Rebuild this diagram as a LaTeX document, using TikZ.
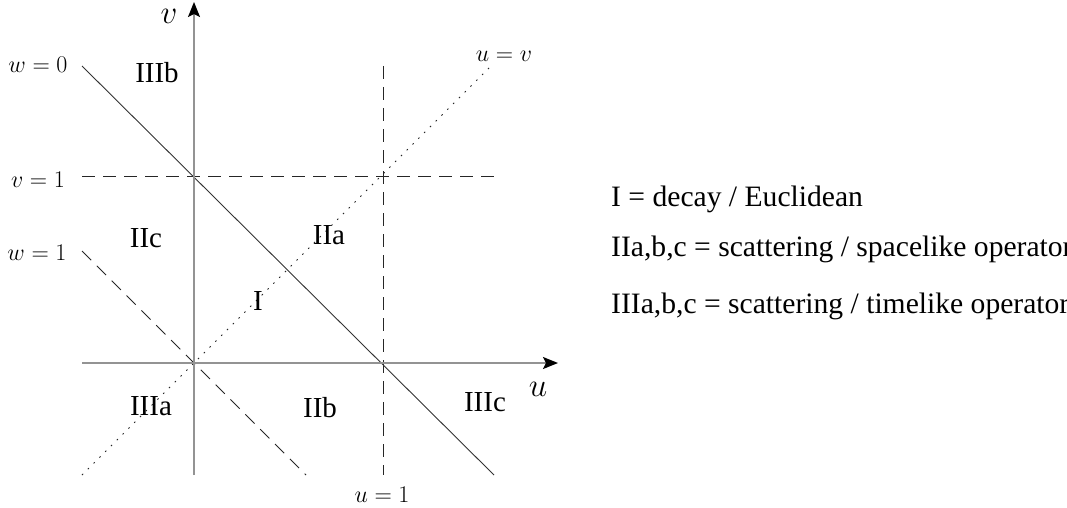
\RequirePackage{fix-cm}
\documentclass[tikz,border=0pt]{standalone}
\usepackage{fontspec}
\setmainfont{Liberation Serif}
\usetikzlibrary{arrows.meta}
\begin{document}
\begin{tikzpicture}[x=1pt,y=-1pt,
  axis/.style={draw=gray!85, line width=1.6pt, -{Stealth[black,length=15pt,width=12pt,inset=3pt]}},
  wline/.style={draw=black!80, line width=0.9pt},
  dline/.style={draw=black!85, line width=0.9pt, dash pattern=on 13pt off 8pt},
  tline/.style={draw=black!85, line width=0.9pt, dash pattern=on 1.6pt off 6.6pt},
  region/.style={font=\fontsize{29}{32}\selectfont, anchor=base, inner sep=0pt},
  mlab/.style={font=\fontsize{24}{28}\selectfont, anchor=base, inner sep=0pt},
  alab/.style={font=\fontsize{33}{36}\selectfont, anchor=base, inner sep=0pt, text height=1ex, text depth=0pt},
  legend/.style={font=\fontsize{29.6}{32}\selectfont, anchor=base west, inner sep=0pt}]
\useasboundingbox (0,0) rectangle (1067,508);
\clip (0,0) rectangle (1067,508);
% coordinates
\coordinate (ua) at (82,363);
\coordinate (ub) at (558,363);
\coordinate (va) at (194,475);
\coordinate (vb) at (194,2);
\coordinate (w0a) at (82,66);
\coordinate (w0b) at (494,475);
\coordinate (w1a) at (82,251);
\coordinate (w1b) at (306,475);
\coordinate (uva) at (82,475);
\coordinate (uvb) at (490,67);
\coordinate (v1a) at (82,176);
\coordinate (v1b) at (494,176);
\coordinate (u1a) at (383,66);
\coordinate (u1b) at (383,475);
% lines
\draw[dline] (v1a) -- (v1b);
\draw[dline] (u1a) -- (u1b);
\draw[dline] (w1a) -- (w1b);
\draw[tline] (uva) -- (uvb);
\draw[wline] (w0a) -- (w0b);
\draw[axis] (ua) -- (ub);
\draw[axis] (va) -- (vb);
% axis labels
\node[alab] (lv) at (169,24) {$v$};
\node[alab] (lu) at (538,396) {$u$};
% line labels
\node[mlab] (lw0) at (38,73) {$w=0$};
\node[mlab] (lv1) at (38,187) {$v=1$};
\node[mlab] (lw1) at (37,260) {$w=1$};
\node[mlab] (luv) at (504,62) {$u=v$};
\node[mlab] (lu1) at (382,502) {$u=1$};
% regions
\node[region] (rIIIb) at (157,83) {IIIb};
\node[region] (rIIc) at (146,247) {IIc};
\node[region] (rIIa) at (329,244) {IIa};
\node[region] (rI) at (258,310) {I};
\node[region] (rIIIa) at (151,415) {IIIa};
\node[region] (rIIb) at (320,417) {IIb};
\node[region] (rIIIc) at (485,411) {IIIc};
% legend
\node[legend] (l1) at (611,206) {I = decay / Euclidean};
\node[legend] (l2) at (611,256) {IIa,b,c = scattering / spacelike operator};
\node[legend] (l3) at (611,313) {IIIa,b,c = scattering / timelike operator};
\end{tikzpicture}
\end{document}
